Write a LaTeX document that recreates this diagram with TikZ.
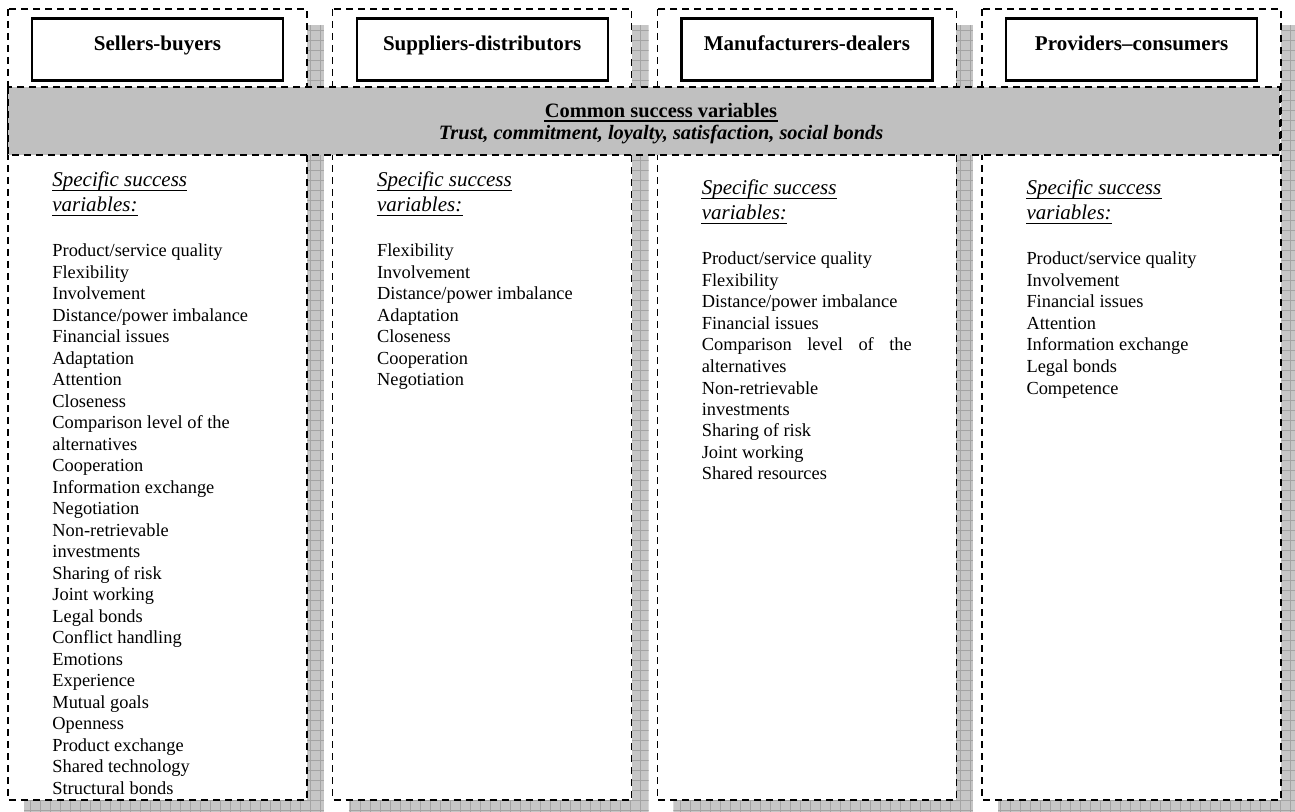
\documentclass[tikz,border=0pt]{standalone}
\usepackage{fontspec}
\setmainfont{Liberation Serif}

\definecolor{bandgray}{HTML}{C0C0C0}
\definecolor{shadowfill}{HTML}{C6C6C6}
\definecolor{gridline}{HTML}{A4A4A4}

\tikzset{
  colbox/.style={draw, fill=white, line width=0.65pt, dash pattern=on 3.5pt off 2.5pt},
  band/.style={draw, fill=bandgray, line width=0.65pt, dash pattern=on 3.5pt off 2.5pt},
  hdrbox/.style={draw, fill=white, line width=1.1pt, inner sep=0pt,
    minimum width=125.5pt, minimum height=31pt},
  hdrtext/.style={inner sep=0pt, anchor=base, font=\fontsize{10.5}{12.2}\selectfont\bfseries},
  bandtext/.style={inner sep=0pt, anchor=base, font=\fontsize{10.2}{11.5}\selectfont\bfseries},
  spec/.style={inner sep=0pt, anchor=base west, font=\fontsize{10.5}{12.2}\selectfont\itshape},
  item/.style={inner sep=0pt, anchor=base west, font=\fontsize{9.2}{10.75}\selectfont},
  uline/.style={line width=0.5pt},
}

\begin{document}
\begin{tikzpicture}[x=0.5pt, y=-0.5pt]
    \clip (0,0) rectangle (1295,812);

    % Shadows behind the columns
    \foreach \i in {0,...,3} {
        \pgfmathsetmacro{\L}{8+324.7*\i}
        \pgfmathsetmacro{\R}{\L+299}
        \begin{scope}
            \clip (\L+16,25) rectangle (\R+17,818);
            \fill[shadowfill] (\L+16,25) rectangle (\R+17,818);
            \draw[gridline, line width=0.3pt, step=5pt] (\L+16,25) grid (\R+17,818);
        \end{scope}
    }

    % Columns and header boxes
    \foreach \i/\name in {0/Sellers-buyers, 1/Suppliers-distributors,
                          2/Manufacturers-dealers, 3/Providers--consumers} {
        \pgfmathsetmacro{\L}{8+324.7*\i}
        \pgfmathsetmacro{\R}{\L+299}
        \draw[colbox] (\L,9) rectangle (\R,800);
        \node[hdrbox] (box\i) at (\L+149.5,49.5) {};
        \node[hdrtext] (hdr\i) at (\L+149.5,51) {\name};
    }

    % Common band
    \draw[band] (8,87) rectangle (1280,155);
    \node[bandtext] (common) at (661,118) {Common success variables};
    \draw[line width=0.7pt] ([yshift=-1.6pt]common.base west) -- ([yshift=-1.6pt]common.base east);
    \node[bandtext] (trust) at (661,140)
        {\itshape Trust, commitment, loyalty, satisfaction, social bonds};

    % Specific headings
    \foreach \i/\y in {0/187, 1/187, 2/195, 3/195} {
        \pgfmathsetmacro{\L}{8+324.7*\i}
        \node[spec] (spec\i-a) at (\L+44,\y) {Specific success};
        \node[spec] (spec\i-b) at (\L+44,\y+24.5) {variables:};
        \draw[uline] ([yshift=-1.8pt]spec\i-a.base west) -- ([yshift=-1.8pt]spec\i-a.base east);
        \draw[uline] ([yshift=-1.8pt]spec\i-b.base west) -- ([yshift=-1.8pt]spec\i-b.base east);
    }

    % Sellers-buyers
    \foreach \t [count=\k from 0] in {Product/service quality, Flexibility, Involvement,
        Distance/power imbalance, Financial issues, Adaptation, Attention, Closeness,
        Comparison level of the, alternatives, Cooperation, Information exchange,
        Negotiation, Non-retrievable, investments, Sharing of risk, Joint working,
        Legal bonds, Conflict handling, Emotions, Experience, Mutual goals, Openness,
        Product exchange, Shared technology, Structural bonds}
        \node[item] (sb-\k) at (52,256.7+21.5*\k) {\t};

    % Suppliers-distributors
    \foreach \t [count=\k from 0] in {Flexibility, Involvement, Distance/power imbalance,
        Adaptation, Closeness, Cooperation, Negotiation}
        \node[item] (sd-\k) at (376.7,256.7+21.5*\k) {\t};

    % Manufacturers-dealers
    \foreach \t [count=\k from 0] in {Product/service quality, Flexibility,
        Distance/power imbalance, Financial issues,
        {\makebox[105pt][s]{Comparison level of the}}, alternatives, Non-retrievable,
        investments, Sharing of risk, Joint working, Shared resources}
        \node[item] (md-\k) at (701.4,265+21.5*\k) {\t};

    % Providers-consumers
    \foreach \t [count=\k from 0] in {Product/service quality, Involvement,
        Financial issues, Attention, Information exchange, Legal bonds, Competence}
        \node[item] (pc-\k) at (1026.1,265+21.5*\k) {\t};
\end{tikzpicture}
\end{document}
